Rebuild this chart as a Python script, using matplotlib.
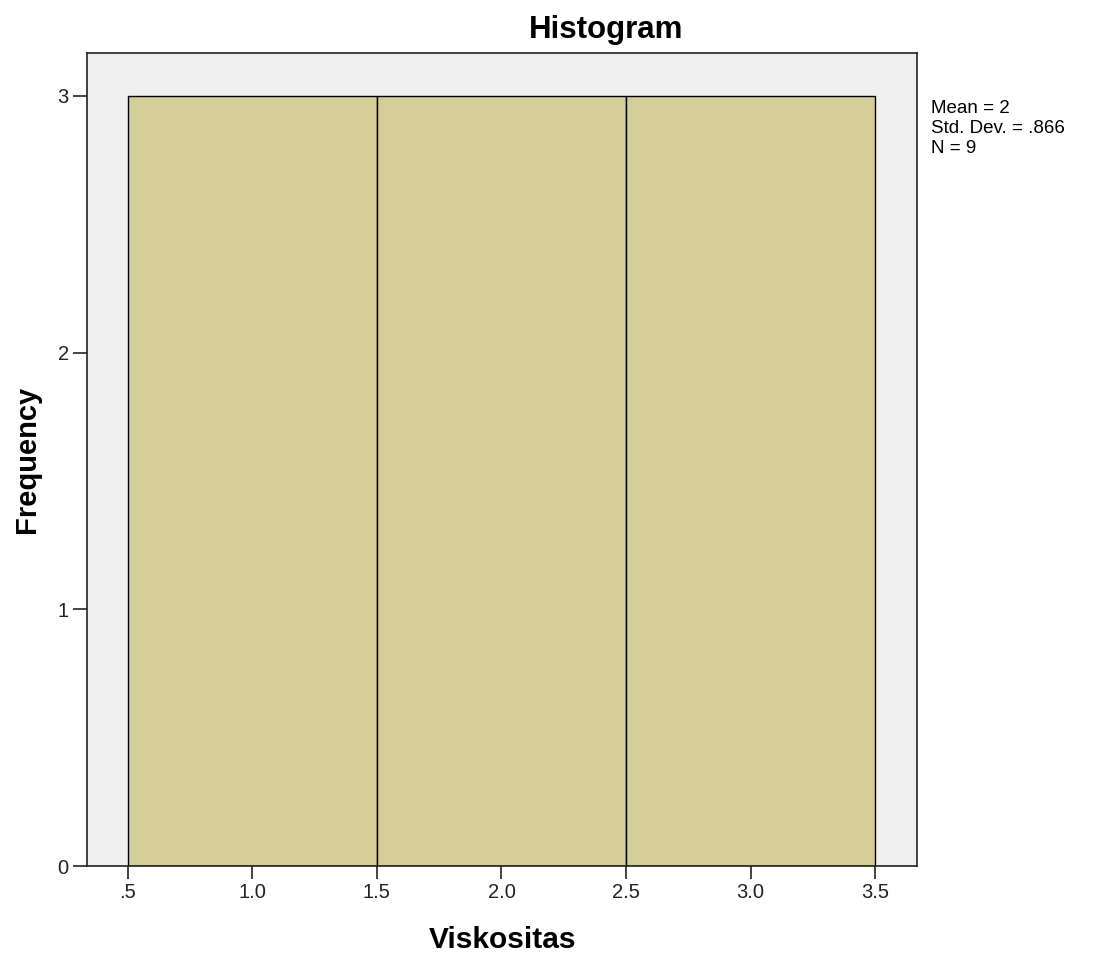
import numpy as np
import matplotlib
matplotlib.use("Agg")
import matplotlib.pyplot as plt

# data
viskositas = [1, 1, 1, 2, 2, 2, 3, 3, 3]
bin_edges = [0.5, 1.5, 2.5, 3.5]
x_ticks = [0.5, 1.0, 1.5, 2.0, 2.5, 3.0, 3.5]
x_tick_labels = [".5", "1.0", "1.5", "2.0", "2.5", "3.0", "3.5"]
y_ticks = [0, 1, 2, 3]

plt.rcParams['font.family'] = ['Liberation Sans', 'DejaVu Sans']

fig = plt.figure(figsize=(10.96, 9.56), dpi=100)
ax = fig.add_axes([0.0791, 0.0941, 0.758, 0.8505])
ax.set_facecolor('#efefef')

ax.hist(viskositas, bins=bin_edges, color='#d3cd98', edgecolor='black', linewidth=1.0)

ax.set_xlim(0.335, 3.67)
ax.set_ylim(0, 3.167)
ax.set_xticks(x_ticks)
ax.set_xticklabels(x_tick_labels)
ax.set_yticks(y_ticks)
ax.tick_params(axis='both', direction='out', width=1.2, labelsize=14.5, colors='#222222')
ax.tick_params(axis='x', length=9, pad=3)
ax.tick_params(axis='y', length=10, pad=3)
for s in ax.spines.values():
    s.set_color('#222222')
    s.set_linewidth(1.2)

ax.set_xlabel('Viskositas', fontsize=21.5, fontweight='bold', va='center')
ax.xaxis.set_label_coords(0.5, -0.091)
ax.set_ylabel('Frequency', fontsize=21, fontweight='bold', va='center')
ax.yaxis.set_label_coords(-0.0719, 0.5)
fig.text(0.553, 0.969, 'Histogram', fontsize=22.5, fontweight='bold', ha='center', va='center')

m = np.mean(viskositas)
sd = np.std(viskositas, ddof=1)
stats = "Mean = %g\nStd. Dev. = %s\nN = %d" % (m, ("%.3f" % sd).lstrip('0'), len(viskositas))
fig.text(0.849, 0.895, stats, fontsize=13.5, ha='left', va='top', linespacing=1.2)

plt.savefig('out.png', dpi=100)
plt.close(fig)
